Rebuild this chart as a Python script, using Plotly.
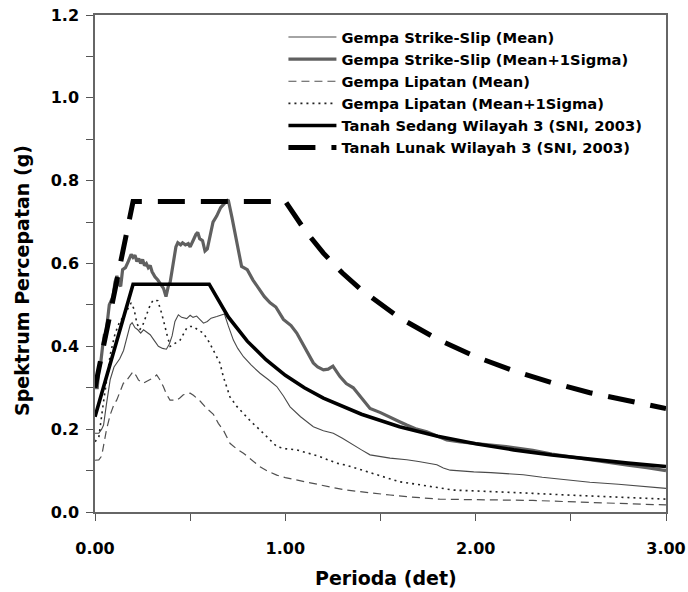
import plotly.graph_objects as go

# ---------------- data ----------------
ss_mean_T = [0.0, 0.02, 0.035, 0.045, 0.06, 0.08, 0.10, 0.115, 0.13, 0.15, 0.17, 0.185, 0.195, 0.21, 0.225,
             0.24, 0.255, 0.27, 0.29, 0.31, 0.333, 0.355, 0.375, 0.39, 0.405, 0.42, 0.438, 0.455, 0.47, 0.482,
             0.50, 0.515, 0.534, 0.55, 0.57, 0.59, 0.61, 0.64, 0.68, 0.70, 0.727, 0.75, 0.78, 0.82, 0.867,
             0.91, 0.955, 0.99, 1.025, 1.08, 1.147, 1.20, 1.252, 1.30, 1.34, 1.40, 1.445, 1.50, 1.55, 1.638,
             1.70, 1.796, 1.83, 1.866, 1.93, 1.99, 2.08, 2.16, 2.25, 2.35, 2.48, 2.60, 2.75, 2.90, 3.0]
ss_mean_S = [0.19, 0.19, 0.20, 0.21, 0.26, 0.32, 0.35, 0.36, 0.37, 0.39, 0.43, 0.452, 0.457, 0.445, 0.44,
             0.432, 0.44, 0.435, 0.428, 0.415, 0.40, 0.395, 0.393, 0.405, 0.425, 0.46, 0.476, 0.47, 0.468, 0.467,
             0.475, 0.47, 0.473, 0.465, 0.456, 0.46, 0.468, 0.472, 0.478, 0.45, 0.415, 0.395, 0.375, 0.355, 0.335,
             0.32, 0.303, 0.28, 0.254, 0.23, 0.206, 0.196, 0.19, 0.178, 0.166, 0.15, 0.138, 0.133, 0.13, 0.126,
             0.122, 0.114, 0.106, 0.101, 0.098, 0.097, 0.095, 0.093, 0.09, 0.084, 0.077, 0.072, 0.067, 0.062, 0.057]

ss_sig_T = [0.0, 0.012, 0.02, 0.03, 0.04, 0.05, 0.055, 0.065, 0.075, 0.085, 0.095, 0.105, 0.115, 0.125, 0.135,
            0.145, 0.16, 0.175, 0.19, 0.20, 0.21, 0.22, 0.23, 0.24, 0.25, 0.26, 0.27, 0.28, 0.29, 0.30,
            0.315, 0.33, 0.345, 0.36, 0.373, 0.385, 0.395, 0.41, 0.425, 0.435, 0.45, 0.46, 0.475, 0.49, 0.50,
            0.515, 0.53, 0.54, 0.55, 0.565, 0.578, 0.59, 0.605, 0.62, 0.64, 0.66, 0.68, 0.70, 0.72, 0.745,
            0.77, 0.80, 0.83, 0.86, 0.89, 0.92, 0.95, 0.99, 1.03, 1.06, 1.10, 1.147, 1.17, 1.20, 1.225,
            1.25, 1.287, 1.32, 1.357, 1.40, 1.445, 1.50, 1.55, 1.60, 1.638, 1.69, 1.743, 1.80, 1.848, 1.92,
            1.99, 2.08, 2.16, 2.30, 2.40, 2.50, 2.60, 2.70, 2.80, 2.90, 3.0]
ss_sig_S = [0.30, 0.30, 0.345, 0.36, 0.40, 0.43, 0.42, 0.47, 0.50, 0.51, 0.52, 0.555, 0.57, 0.55, 0.545,
            0.585, 0.59, 0.605, 0.622, 0.615, 0.62, 0.605, 0.612, 0.60, 0.61, 0.595, 0.60, 0.59, 0.595, 0.58,
            0.568, 0.56, 0.55, 0.54, 0.52, 0.545, 0.555, 0.60, 0.64, 0.65, 0.645, 0.65, 0.645, 0.648, 0.64,
            0.655, 0.67, 0.675, 0.66, 0.655, 0.63, 0.635, 0.67, 0.70, 0.715, 0.735, 0.745, 0.754, 0.71, 0.65,
            0.593, 0.585, 0.56, 0.54, 0.52, 0.505, 0.495, 0.465, 0.45, 0.432, 0.40, 0.36, 0.35, 0.343, 0.345,
            0.352, 0.327, 0.31, 0.30, 0.275, 0.25, 0.24, 0.23, 0.218, 0.21, 0.20, 0.194, 0.182, 0.174, 0.169,
            0.166, 0.162, 0.158, 0.149, 0.14, 0.133, 0.126, 0.12, 0.113, 0.107, 0.10]

lip_mean_T = [0.0, 0.02, 0.035, 0.05, 0.06, 0.08, 0.10, 0.114, 0.13, 0.149, 0.162, 0.175, 0.19, 0.20, 0.215,
              0.228, 0.24, 0.254, 0.27, 0.289, 0.31, 0.324, 0.34, 0.359, 0.375, 0.394, 0.41, 0.43, 0.447, 0.464,
              0.482, 0.50, 0.517, 0.534, 0.552, 0.587, 0.622, 0.648, 0.674, 0.709, 0.745, 0.78, 0.82, 0.867, 0.91,
              0.955, 1.0, 1.06, 1.12, 1.18, 1.25, 1.32, 1.39, 1.462, 1.55, 1.638, 1.72, 1.81, 1.95, 2.16,
              2.30, 2.48, 2.70, 2.85, 3.0]
lip_mean_S = [0.125, 0.126, 0.135, 0.18, 0.198, 0.235, 0.26, 0.27, 0.29, 0.311, 0.315, 0.323, 0.33, 0.339, 0.33,
              0.319, 0.315, 0.311, 0.315, 0.319, 0.325, 0.331, 0.32, 0.303, 0.285, 0.27, 0.27, 0.27, 0.276, 0.283,
              0.285, 0.287, 0.282, 0.275, 0.268, 0.25, 0.236, 0.214, 0.198, 0.166, 0.152, 0.142, 0.127, 0.109, 0.098,
              0.089, 0.083, 0.077, 0.071, 0.065, 0.059, 0.053, 0.049, 0.045, 0.041, 0.037, 0.034, 0.031, 0.030, 0.029,
              0.028, 0.025, 0.021, 0.019, 0.017]

lip_sig_T = [0.0, 0.02, 0.04, 0.06, 0.08, 0.105, 0.13, 0.15, 0.17, 0.19, 0.205, 0.22, 0.235, 0.25, 0.27,
             0.29, 0.306, 0.33, 0.35, 0.365, 0.38, 0.395, 0.41, 0.43, 0.447, 0.465, 0.482, 0.50, 0.517, 0.54,
             0.569, 0.60, 0.622, 0.657, 0.674, 0.709, 0.745, 0.78, 0.82, 0.867, 0.91, 0.955, 1.0, 1.06, 1.12,
             1.18, 1.23, 1.27, 1.32, 1.39, 1.462, 1.53, 1.60, 1.66, 1.725, 1.80, 1.88, 2.0, 2.16, 2.30,
             2.48, 2.70, 2.85, 3.0]
lip_sig_S = [0.17, 0.18, 0.25, 0.32, 0.38, 0.43, 0.46, 0.472, 0.49, 0.505, 0.49, 0.456, 0.44, 0.45, 0.475,
             0.50, 0.512, 0.51, 0.48, 0.45, 0.425, 0.40, 0.405, 0.41, 0.415, 0.43, 0.444, 0.448, 0.448, 0.44,
             0.432, 0.41, 0.391, 0.359, 0.327, 0.278, 0.255, 0.238, 0.218, 0.198, 0.178, 0.158, 0.153, 0.150, 0.142,
             0.134, 0.125, 0.118, 0.113, 0.103, 0.093, 0.083, 0.073, 0.069, 0.065, 0.059, 0.053, 0.051, 0.049, 0.045,
             0.041, 0.036, 0.034, 0.031]

sedang_T = [0.0, 0.2, 0.6, 0.7, 0.8, 0.9, 1.0, 1.1, 1.2, 1.4, 1.6, 1.8, 2.0, 2.2, 2.4, 2.6, 2.8, 3.0]
sedang_S = [0.23, 0.55, 0.55, 0.471, 0.4125, 0.367, 0.33, 0.30, 0.275, 0.236, 0.206, 0.183, 0.165, 0.15,
            0.1375, 0.127, 0.118, 0.11]

lunak_T = [0.0, 0.2, 1.0, 1.1, 1.2, 1.3, 1.4, 1.6, 1.8, 2.0, 2.2, 2.4, 2.6, 2.8, 3.0]
lunak_S = [0.30, 0.75, 0.75, 0.682, 0.625, 0.577, 0.536, 0.469, 0.417, 0.375, 0.341, 0.3125, 0.288, 0.268, 0.25]

names = ["Gempa Strike-Slip (Mean)", "Gempa Strike-Slip (Mean+1Sigma)", "Gempa Lipatan (Mean)",
         "Gempa Lipatan (Mean+1Sigma)", "Tanah Sedang Wilayah 3 (SNI, 2003)", "Tanah Lunak Wilayah 3 (SNI, 2003)"]

y_ticks = [0.0, 0.2, 0.4, 0.6, 0.8, 1.0, 1.2]
x_ticks = [0.0, 1.0, 2.0, 3.0]
x_title = "Perioda (det)"
y_title = "Spektrum Percepatan (g)"

# ---------------- figure ----------------
FONT = "DejaVu Sans, Liberation Sans, Arial, sans-serif"
fig = go.Figure()

fig.add_trace(go.Scatter(x=ss_mean_T, y=ss_mean_S, mode="lines", name=names[0],
                         line=dict(color="#4a4a4a", width=1.1)))
fig.add_trace(go.Scatter(x=ss_sig_T, y=ss_sig_S, mode="lines", name=names[1],
                         line=dict(color="#606060", width=3.2)))
fig.add_trace(go.Scatter(x=lip_mean_T, y=lip_mean_S, mode="lines", name=names[2],
                         line=dict(color="#505050", width=1.2, dash="8px,5px")))
fig.add_trace(go.Scatter(x=lip_sig_T, y=lip_sig_S, mode="lines", name=names[3],
                         line=dict(color="#222222", width=1.6, dash="2px,4px")))
fig.add_trace(go.Scatter(x=sedang_T, y=sedang_S, mode="lines", name=names[4],
                         line=dict(color="black", width=3.6)))
fig.add_trace(go.Scatter(x=lunak_T, y=lunak_S, mode="lines", name=names[5],
                         line=dict(color="black", width=5, dash="27px,16px")))

fig.update_layout(
    width=688, height=592,
    margin=dict(l=95, r=22, t=15, b=80, autoexpand=False),
    paper_bgcolor="white", plot_bgcolor="white",
    font=dict(family=FONT, color="black"),
    showlegend=True,
    legend=dict(x=0.33, y=0.988, xanchor="left", yanchor="top",
                bgcolor="rgba(0,0,0,0)", borderwidth=0,
                font=dict(family=FONT, size=14.7, weight="bold", color="black"),
                itemwidth=48, tracegroupgap=0),
    annotations=[
        dict(text=x_title, xref="paper", yref="paper", x=0.5096, y=-0.1328,
             xanchor="center", yanchor="middle", showarrow=False,
             font=dict(family=FONT, size=19, weight="bold", color="black")),
        dict(text=y_title, xref="paper", yref="paper", x=-0.1278, y=0.4648,
             xanchor="center", yanchor="middle", showarrow=False, textangle=-90,
             font=dict(family=FONT, size=19, weight="bold", color="black")),
    ],
)

fig.update_xaxes(
    range=[0, 3.0], tickvals=x_ticks, tickformat=".2f", automargin=False,
    ticks="outside", ticklen=7, tickwidth=1.2, tickcolor="#555", ticklabelstandoff=14,
    minor=dict(dtick=0.5, ticks="outside", ticklen=7, tickwidth=1.2, tickcolor="#555"),
    showline=True, linecolor="#666", linewidth=1.5, mirror=True,
    showgrid=False, zeroline=False,
    tickfont=dict(family=FONT, size=16, weight="bold", color="black"),
)
fig.update_yaxes(
    range=[0, 1.2], tickvals=y_ticks, tickformat=".1f", automargin=False,
    ticks="outside", ticklen=7, tickwidth=1.2, tickcolor="#555", ticklabelstandoff=4,
    minor=dict(dtick=0.1, ticks="outside", ticklen=7, tickwidth=1.2, tickcolor="#555"),
    showline=True, linecolor="#666", linewidth=1.5, mirror=True,
    showgrid=False, zeroline=False,
    tickfont=dict(family=FONT, size=16, weight="bold", color="black"),
)

fig.write_html("out.html")
